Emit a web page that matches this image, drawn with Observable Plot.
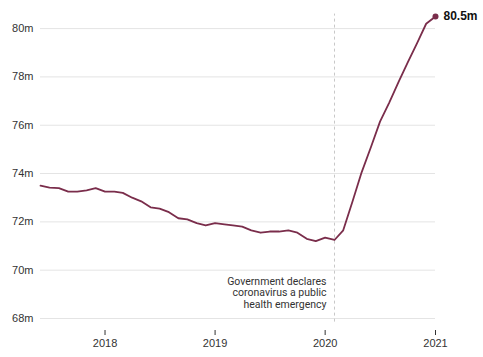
<!DOCTYPE html>
<html>
<head>
<meta charset="utf-8">
<script src="https://cdn.jsdelivr.net/npm/d3@7"></script>
<script src="https://cdn.jsdelivr.net/npm/@observablehq/plot@0.6"></script>
<style>
  html, body { margin: 0; padding: 0; background: #fff; }
</style>
</head>
<body>
<div id="chart"></div>
<script>
const months = [
  "2017-06","2017-07","2017-08","2017-09","2017-10","2017-11","2017-12",
  "2018-01","2018-02","2018-03","2018-04","2018-05","2018-06","2018-07","2018-08","2018-09","2018-10","2018-11","2018-12",
  "2019-01","2019-02","2019-03","2019-04","2019-05","2019-06","2019-07","2019-08","2019-09","2019-10","2019-11","2019-12",
  "2020-01","2020-02","2020-03","2020-04","2020-05","2020-06","2020-07","2020-08","2020-09","2020-10","2020-11","2020-12",
  "2021-01"
];
const enrollment = [
  73.5, 73.42, 73.4, 73.25, 73.25, 73.3, 73.4,
  73.25, 73.25, 73.2, 73.0, 72.85, 72.6, 72.55, 72.4, 72.15, 72.1, 71.95, 71.85,
  71.95, 71.9, 71.85, 71.8, 71.65, 71.55, 71.6, 71.6, 71.65, 71.55, 71.3, 71.2,
  71.35, 71.25, 71.65, 72.85, 74.05, 75.1, 76.15, 76.95, 77.8, 78.6, 79.4, 80.2,
  80.5
];
const yTicks = [68, 70, 72, 74, 76, 78, 80];
const xTickYears = ["2018-01-01", "2019-01-01", "2020-01-01", "2021-01-01"];
const emergencyDate = "2020-02-01";
const emergencyText = "Government declares\ncoronavirus a public\nhealth emergency";
const endLabel = "80.5m";

const data = months.map((m, i) => ({date: new Date(m + "-01T00:00:00Z"), value: enrollment[i]}));
const last = data[data.length - 1];
const lineColor = "#7a2d4b";

const chart = Plot.plot({
  width: 483,
  height: 357,
  marginLeft: 40,
  marginRight: 48,
  marginTop: 16,
  marginBottom: 27,
  style: {fontFamily: "'Liberation Sans', Arial, sans-serif", fontSize: "11px", color: "#333", background: "#fff"},
  x: {type: "utc", domain: [new Date("2017-06-01T00:00:00Z"), new Date("2021-01-01T00:00:00Z")]},
  y: {domain: [68, 80.5], insetBottom: 12},
  marks: [
    Plot.ruleY(yTicks, {stroke: "#e4e4e4", strokeWidth: 1}),
    Plot.axisY(yTicks, {tickSize: 0, tickPadding: 7, tickFormat: d => d + "m", fill: "#333", fontSize: 11, label: null}),
    Plot.axisX(xTickYears.map(d => new Date(d + "T00:00:00Z")), {tickSize: 5, tickPadding: 4, tickFormat: d => String(d.getUTCFullYear()), stroke: "#333", fill: "#333", fontSize: 11, label: null}),
    Plot.ruleX([new Date(emergencyDate + "T00:00:00Z")], {y1: 67.85, y2: 80.6, stroke: "#c8c8c8", strokeDasharray: "3,3", strokeWidth: 1}),
    Plot.text([emergencyText], {x: () => new Date(emergencyDate + "T00:00:00Z"), y: () => 69.08, dx: -8, textAnchor: "end", lineHeight: 1.1, fill: "#333", fontSize: 10.5, fontFamily: "Roboto, 'Liberation Sans', sans-serif"}),
    Plot.line(data, {x: "date", y: "value", stroke: lineColor, strokeWidth: 1.8}),
    Plot.dot([last], {x: "date", y: "value", r: 3, fill: lineColor, stroke: "none"}),
    Plot.text([last], {x: "date", y: "value", text: () => endLabel, dx: 8, textAnchor: "start", fontWeight: "bold", fontSize: 12, fill: "#111"})
  ]
});
document.getElementById("chart").appendChild(chart);
</script>
</body>
</html>
